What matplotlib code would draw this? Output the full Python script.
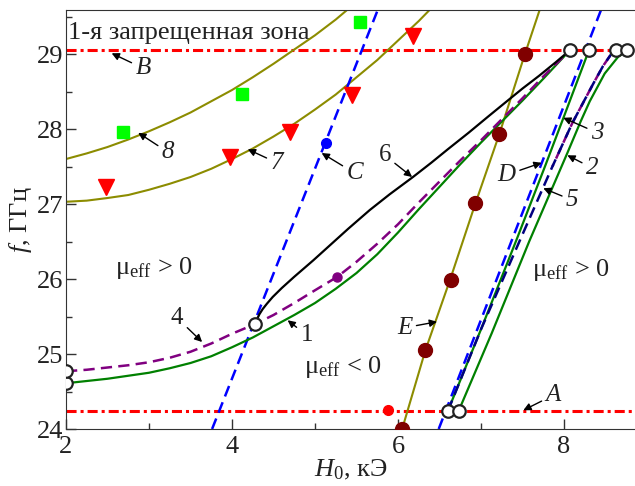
import numpy as np
import matplotlib.pyplot as plt

plt.rcParams['font.family'] = ['Liberation Serif', 'DejaVu Serif']
plt.rcParams['mathtext.fontset'] = 'custom'
plt.rcParams['mathtext.rm'] = 'Liberation Serif'
plt.rcParams['mathtext.it'] = 'Liberation Serif:italic'

# --- данные ---
lvl_A = 24.24
lvl_B = 29.05

# кривая 1 (зелёная, левая ветвь)
x1 = [2.0, 2.25, 2.5, 2.75, 3.0, 3.25, 3.5, 3.75, 4.0, 4.25, 4.5, 4.75, 5.0, 5.25,
      5.5, 5.75, 6.0, 6.25, 6.5, 6.75, 7.0, 7.25, 7.5, 7.75, 8.07]
y1 = [24.61, 24.64, 24.67, 24.71, 24.75, 24.81, 24.88, 24.97, 25.09, 25.22, 25.37,
      25.52, 25.68, 25.87, 26.08, 26.33, 26.62, 26.93, 27.23, 27.53, 27.82, 28.10,
      28.38, 28.67, 29.05]
# кривая 4 (фиолетовая штриховая)
x4 = [2.0, 2.25, 2.5, 2.75, 3.0, 3.25, 3.5, 3.75, 4.0, 4.28, 4.5, 4.75, 5.0, 5.27,
      5.5, 5.75, 6.0, 6.25, 6.5, 6.75, 7.0, 7.25, 7.5, 7.75, 8.07]
y4 = [24.77, 24.79, 24.82, 24.85, 24.89, 24.95, 25.03, 25.14, 25.27, 25.40, 25.52,
      25.68, 25.85, 26.03, 26.23, 26.47, 26.73, 27.02, 27.30, 27.58, 27.85, 28.13,
      28.41, 28.70, 29.05]
# кривая 6 (чёрная)
x6 = [4.28, 4.30, 4.33, 4.37, 4.42, 4.49, 4.6, 4.75, 4.98, 5.2, 5.4, 5.66, 5.9, 6.18,
      6.4, 6.6, 6.85, 7.09, 7.3, 7.5, 7.7, 7.9, 8.07]
y6 = [25.40, 25.46, 25.53, 25.60, 25.67, 25.76, 25.88, 26.03, 26.25, 26.47, 26.67, 26.92,
      27.13, 27.36, 27.55, 27.73, 27.95, 28.17, 28.36, 28.54, 28.71, 28.89, 29.05]
# кривые 3, 5, 2 (правые ветви)
x3 = [6.60, 7.0, 7.43, 7.77, 8.0, 8.30]
y3 = [24.24, 25.33, 26.53, 27.50, 28.17, 29.05]
x5 = [6.60, 7.0, 7.47, 7.86, 8.10, 8.35, 8.47, 8.60]
y5 = [24.24, 25.33, 26.52, 27.50, 28.08, 28.60, 28.84, 29.05]
x5p = [7.86, 8.10, 8.35, 8.47, 8.60]
y5p = [27.50, 28.08, 28.60, 28.84, 29.05]
x2 = [6.73, 7.13, 7.58, 8.04, 8.20, 8.31, 8.49, 8.65, 8.76]
y2 = [24.24, 25.28, 26.50, 27.68, 28.10, 28.37, 28.74, 28.96, 29.05]
# прямые C и D (синие штриховые)
xC = [3.76, 5.76]
yC = [24.0, 29.6]
xD = [6.49, 8.45]
yD = [24.0, 29.6]
# кривая E (оливковая) и точки на ней
xE = [6.05, 6.33, 6.63, 6.93, 7.22, 7.52, 7.71]
yE = [24.0, 25.05, 26.0, 27.0, 27.93, 28.97, 29.6]
xE_pts = [6.05, 6.33, 6.64, 6.93, 7.22, 7.53]
yE_pts = [24.0, 25.05, 25.99, 27.01, 27.93, 29.0]
# кривые 7 и 8 (оливковые)
x7 = [2.0, 2.25, 2.5, 2.75, 3.0, 3.25, 3.5, 3.75, 4.0, 4.25, 4.5, 4.75, 5.0, 5.25,
      5.5, 5.75, 6.0, 6.25, 6.4]
y7 = [27.03, 27.045, 27.08, 27.12, 27.19, 27.27, 27.36, 27.47, 27.60, 27.74, 27.90,
      28.07, 28.26, 28.46, 28.69, 28.92, 29.18, 29.44, 29.61]
x8 = [2.0, 2.25, 2.5, 2.75, 3.0, 3.25, 3.5, 3.75, 4.0, 4.25, 4.5, 4.75, 5.0, 5.25, 5.4]
y8 = [27.60, 27.675, 27.76, 27.86, 27.97, 28.09, 28.22, 28.37, 28.52, 28.69, 28.87,
      29.06, 29.25, 29.46, 29.60]
# экспериментальные точки
sq_x = [2.69, 4.12, 5.54]
sq_y = [27.96, 28.47, 29.43]
tri_x = [2.48, 3.98, 4.70, 5.45, 6.18]
tri_y = [27.23, 27.63, 27.96, 28.45, 29.24]
blue_pt = (5.13, 27.81)
purple_pt = (5.27, 26.03)
red_pt = (5.88, 24.25)
# открытые кружки
oc_x = [2.0, 2.0, 4.28, 8.07, 8.30, 8.63, 8.76, 6.60, 6.73]
oc_y = [24.61, 24.77, 25.40, 29.05, 29.05, 29.05, 29.05, 24.24, 24.24]

# подписи: текст, позиция текста, остриё стрелки, курсив
labels = [
    ('B', (2.93, 28.81), (2.55, 29.01), True),
    ('8', (3.23, 27.69), (2.87, 27.95), True),
    ('7', (4.54, 27.55), (4.19, 27.73), True),
    ('C', (5.48, 27.41), (5.08, 27.68), True),
    ('6', (5.84, 27.65), (6.17, 27.36), False),
    ('D', (7.31, 27.39), (7.73, 27.55), True),
    ('3', (8.40, 27.95), (7.99, 28.15), True),
    ('2', (8.34, 27.48), (8.04, 27.65), True),
    ('5', (8.10, 27.05), (7.75, 27.21), True),
    ('4', (3.34, 25.48), (3.64, 25.16), False),
    ('1', (4.90, 25.25), (4.67, 25.45), False),
    ('E', (6.08, 25.35), (6.47, 25.43), True),
    ('A', (7.87, 24.45), (7.51, 24.25), True),
]

fig = plt.figure(figsize=(6.35, 4.86), dpi=100)
ax = fig.add_axes([66/635, 57/486, 569/635, 419/486])

olive = '#8c8c00'
green = '#008000'
purple = '#800080'
navy = '#000080'
dash_red = (0, (3.3, 1.3, 1.0, 1.3))
dash_blue = (0, (4.5, 2.5))

ax.axhline(lvl_A, color='red', lw=2.2, ls=dash_red, zorder=2)
ax.axhline(lvl_B, color='red', lw=2.2, ls=dash_red, zorder=2)

ax.plot(x8, y8, color=olive, lw=1.5)
ax.plot(x7, y7, color=olive, lw=1.5)
ax.plot(xE, yE, color=olive, lw=1.5)

ax.plot(xC, yC, color='blue', lw=1.8, ls=dash_blue)
ax.plot(xD, yD, color='blue', lw=1.8, ls=dash_blue)

ax.plot(x1, y1, color=green, lw=1.6)
ax.plot(x4, y4, color=purple, lw=1.8, ls=dash_blue)
ax.plot(x6, y6, color='black', lw=1.6)
ax.plot(x3, y3, color=green, lw=1.6)
ax.plot(x5p, y5p, color=purple, lw=1.8, ls=(3.5, (4.5, 2.5)))
ax.plot(x5, y5, color=navy, lw=1.8, ls=dash_blue)
ax.plot(x2, y2, color=green, lw=1.6)

ax.plot(xE_pts, yE_pts, 'o', color='#800000', ms=10, zorder=5)
ax.plot(sq_x, sq_y, 's', color='#00ff00', ms=9, zorder=5)
ax.plot(tri_x, tri_y, 'v', color='red', ms=11, zorder=5)
ax.plot(*blue_pt, 'o', color='blue', ms=7, zorder=5)
ax.plot(*purple_pt, 'o', color=purple, ms=6.5, zorder=5)
ax.plot(*red_pt, 'o', color='red', ms=7, zorder=5)
ax.plot(oc_x, oc_y, 'o', mfc='white', mec='#222222', mew=1.6, ms=9, zorder=6)

for txt, xy_t, xy_a, ital in labels:
    ax.annotate(txt, xy=xy_a, xytext=xy_t, fontsize=18,
                style='italic' if ital else 'normal',
                ha='center', va='center', color='#222222',
                arrowprops=dict(arrowstyle='-|>', color='black', lw=1.0,
                                mutation_scale=11, shrinkA=1, shrinkB=0))

ax.text(2.02, 29.28, '1-я запрещенная зона', fontsize=19, ha='left', va='center', color='#222222')
ax.text(3.06, 26.15, r'μ$_\mathrm{eff}$ > 0', fontsize=19, ha='center', va='center', color='#222222')
ax.text(5.33, 24.83, r'μ$_\mathrm{eff}$ < 0', fontsize=19, ha='center', va='center', color='#222222')
ax.text(8.08, 26.12, r'μ$_\mathrm{eff}$ > 0', fontsize=19, ha='center', va='center', color='#222222')

ax.set_xlim(2, 8.855)
ax.set_ylim(24, 29.587)
ax.set_xticks([2, 4, 6, 8])
ax.set_xticks([3, 5, 7], minor=True)
ax.set_yticks([24, 25, 26, 27, 28, 29])
ax.set_yticks(np.arange(24.5, 29.6, 1.0), minor=True)
ax.tick_params(which='both', direction='in', labelsize=19, colors='#333333', labelcolor='#222222')
ax.tick_params(which='major', length=7, width=1)
ax.tick_params(which='minor', length=4, width=1)
ax.tick_params(axis='y', pad=2)
ax.tick_params(axis='x', pad=5)
ax.spines['right'].set_visible(False)
for s in ['left', 'bottom', 'top']:
    ax.spines[s].set_color('#333333')

ax.set_xlabel(r'$H_0$, кЭ', fontsize=19, labelpad=0, color='#222222')
ax.set_ylabel(r'$f$, ГГц', fontsize=19, labelpad=2, color='#222222')

fig.savefig('out.png', dpi=100)
